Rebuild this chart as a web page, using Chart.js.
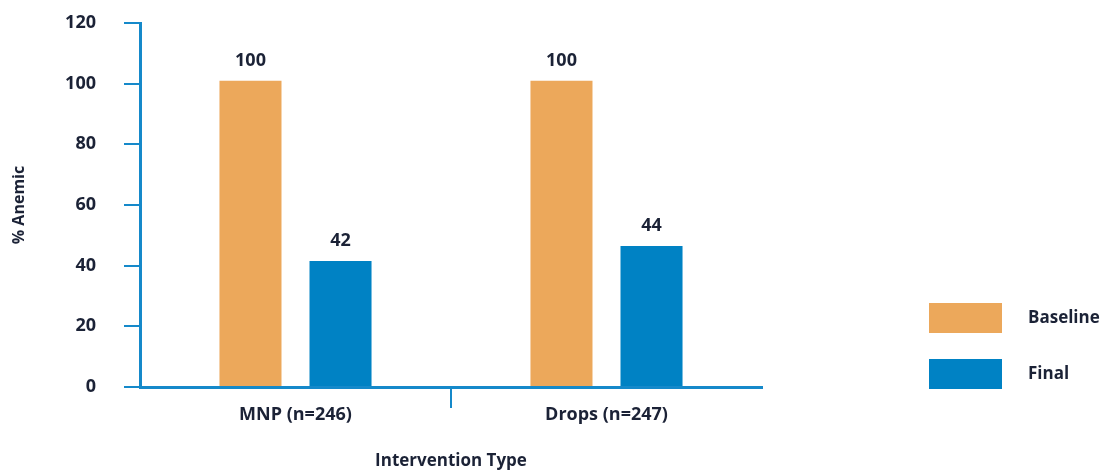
<!DOCTYPE html>
<html><head><meta charset="utf-8">
<script src="https://cdn.jsdelivr.net/npm/chart.js@4"></script>
<style>html,body{margin:0;padding:0;background:#fff}#wrap{width:1104px;height:471px}</style>
</head><body><div id="wrap"><canvas id="c" width="1104" height="471"></canvas></div>
<script>
const categories = ['MNP (n=246)', 'Drops (n=247)'];
const seriesNames = ['Baseline', 'Final'];
const baselineValues = [101, 101];
const finalValues = [41.5, 46.5];
const baselineLabels = ['100', '100'];
const finalLabels = ['42', '44'];
const yMin = 0, yMax = 120, yStep = 20;
const yTitle = '% Anemic';
const xTitle = 'Intervention Type';

const ORANGE = '#ECA85B';
const BLUE = '#0082C4';
const AXIS = '#1589CA';
const TEXT = '#1B2236';
const FONT = '"Open Sans", Lato, sans-serif';

const valueLabels = [baselineLabels, finalLabels];

const dataLabelPlugin = {
  id: 'dataLabels',
  afterDatasetsDraw(chart) {
    const ctx = chart.ctx;
    ctx.save();
    ctx.font = 'bold 18px ' + FONT;
    ctx.fillStyle = TEXT;
    ctx.textAlign = 'center';
    ctx.textBaseline = 'middle';
    chart.data.datasets.forEach((ds, di) => {
      chart.getDatasetMeta(di).data.forEach((el, i) => {
        ctx.fillText(valueLabels[di][i], el.x, el.y - 20);
      });
    });
    ctx.restore();
  }
};

const legendPlugin = {
  id: 'customLegend',
  afterDraw(chart) {
    const ctx = chart.ctx;
    const a = chart.chartArea;
    ctx.save();
    ctx.font = 'bold 17px ' + FONT;
    ctx.textBaseline = 'middle';
    ctx.textAlign = 'left';
    chart.data.datasets.forEach((ds, i) => {
      const bx = a.right + 167;
      const by = a.bottom - 84 + i * 56;
      ctx.fillStyle = ds.backgroundColor;
      ctx.fillRect(bx, by, 73, 30);
      ctx.fillStyle = TEXT;
      ctx.fillText(ds.label, bx + 99, by + 15);
    });
    ctx.restore();
  }
};

new Chart(document.getElementById('c'), {
  type: 'bar',
  data: {
    labels: categories,
    datasets: [
      { label: seriesNames[0], data: baselineValues, backgroundColor: ORANGE },
      { label: seriesNames[1], data: finalValues, backgroundColor: BLUE }
    ]
  },
  options: {
    responsive: false,
    animation: false,
    layout: { padding: { top: 23, right: 342, left: 0, bottom: 0 } },
    datasets: { bar: { categoryPercentage: 0.579, barPercentage: 0.689 } },
    plugins: { legend: { display: false }, tooltip: { enabled: false } },
    scales: {
      x: {
        grid: {
          offset: true,
          drawOnChartArea: false,
          tickLength: 21,
          lineWidth: 2,
          tickColor: (c) => (c.index === 1 ? AXIS : 'rgba(0,0,0,0)')
        },
        border: { color: AXIS, width: 3 },
        ticks: { color: TEXT, font: { family: FONT, size: 18, weight: 'bold' }, padding: -4 },
        title: { display: true, text: xTitle, color: TEXT, font: { family: FONT, size: 17, weight: 'bold' }, padding: { top: 0, bottom: 0 } },
        afterFit: (s) => { s.height = 84; s.paddingLeft = 0; s.paddingRight = 0; }
      },
      y: {
        min: yMin, max: yMax,
        ticks: { stepSize: yStep, color: TEXT, font: { family: FONT, size: 18, weight: 'bold' }, padding: 28 },
        grid: { drawOnChartArea: false, tickLength: 16, lineWidth: 2, tickColor: AXIS },
        border: { color: AXIS, width: 3 },
        title: { display: true, text: yTitle, color: TEXT, font: { family: FONT, size: 16, weight: 'bold' }, padding: { top: 10, bottom: 0 } },
        afterFit: (s) => { s.width = 140; s.paddingTop = 0; s.paddingBottom = 0; }
      }
    }
  },
  plugins: [dataLabelPlugin, legendPlugin]
});
</script>
</body></html>
